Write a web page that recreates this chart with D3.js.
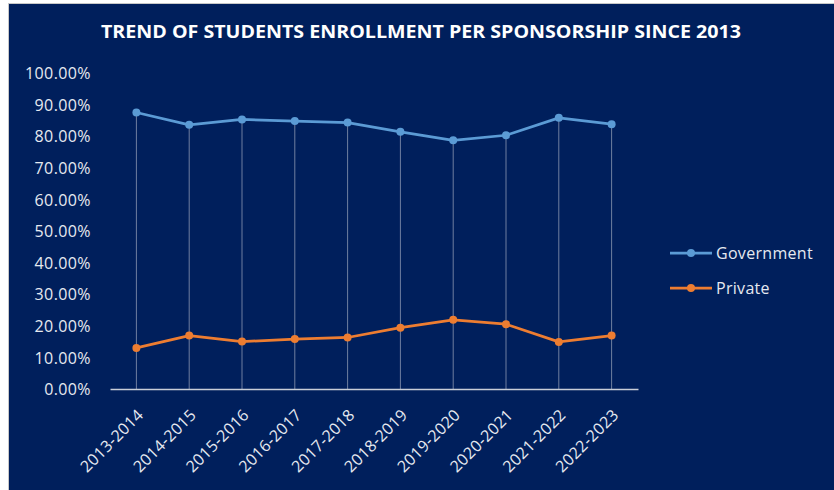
<!DOCTYPE html>
<html><head><meta charset="utf-8">
<script src="https://cdn.jsdelivr.net/npm/d3@7"></script>
<style>
html,body{margin:0;padding:0;background:#fff;}
svg{display:block;}
</style></head>
<body>
<svg id="chart" width="834" height="490"></svg>
<script>
const categories = ["2013-2014","2014-2015","2015-2016","2016-2017","2017-2018","2018-2019","2019-2020","2020-2021","2021-2022","2022-2023"];
const government = [87.5, 83.6, 85.3, 84.8, 84.3, 81.4, 78.7, 80.3, 85.8, 83.8];
const privateS   = [13.0, 16.9, 15.0, 15.8, 16.3, 19.4, 21.9, 20.5, 14.9, 16.9];
const yTicks = [0,10,20,30,40,50,60,70,80,90,100];
const seriesNames = ["Government","Private"];
const seriesColors = ["#5B9BD5","#ED7D31"];
const titleText = "TREND OF STUDENTS ENROLLMENT PER SPONSORSHIP SINCE 2013";

const svg = d3.select("#chart");
const font = "'Open Sans',sans-serif";
const textCol = "#E6E9F0";

// page frame
svg.append("rect").attr("x",0).attr("y",0).attr("width",834).attr("height",490).attr("fill","#ffffff");
svg.append("rect").attr("x",8).attr("y",3).attr("width",826).attr("height",487).attr("fill","#c8c8c8");
svg.append("rect").attr("x",9).attr("y",4).attr("width",825).attr("height",486).attr("fill","#001F5C");

// title
svg.append("text").attr("x",421).attr("y",38).attr("text-anchor","middle")
  .attr("font-family","'Open Sans',sans-serif").attr("font-weight","bold").attr("font-size",18)
  .attr("fill","#ffffff").attr("textLength",640).attr("lengthAdjust","spacingAndGlyphs")
  .text(titleText);

const x = d3.scaleBand().domain(categories).range([110,638]);
const y = d3.scaleLinear().domain([0,100]).range([389,73]);

// y axis labels
const yAxis = d3.axisLeft(y).tickValues(yTicks).tickSize(0).tickPadding(0)
  .tickFormat(d => d.toFixed(2) + "%");
const gy = svg.append("g").attr("transform","translate(91,0)").call(yAxis);
gy.select(".domain").remove();
gy.selectAll("text").attr("font-family",font).attr("font-size",16).attr("letter-spacing","0.4px")
  .attr("fill",textCol).attr("dy","0.35em");

// drop lines
const cx = d => x(d) + x.bandwidth()/2;
svg.append("g").selectAll("line").data(categories).join("line")
  .attr("x1",d=>cx(d)).attr("x2",d=>cx(d))
  .attr("y1",(d,i)=>y(Math.max(government[i],privateS[i])))
  .attr("y2",y(0))
  .attr("stroke","#6F7FA0").attr("stroke-width",1);

// x axis
const xAxis = d3.axisBottom(x).tickSize(0).tickPadding(0);
const gx = svg.append("g").attr("transform",`translate(0,${y(0)})`).call(xAxis);
gx.select(".domain").attr("stroke","#C9CED8").attr("stroke-width",1.5);
gx.selectAll("text").attr("font-family",font).attr("font-size",16).attr("letter-spacing","0.3px")
  .attr("fill",textCol).attr("text-anchor","end").attr("dy",0)
  .attr("transform","translate(8,27) rotate(-45)");

// series
const line = d3.line().x((d,i)=>cx(categories[i])).y(d=>y(d));
[government, privateS].forEach((vals, si) => {
  svg.append("path").datum(vals).attr("d",line).attr("fill","none")
    .attr("stroke",seriesColors[si]).attr("stroke-width",2.75).attr("stroke-linejoin","round");
  svg.append("g").selectAll("circle").data(vals).join("circle")
    .attr("cx",(d,i)=>cx(categories[i])).attr("cy",d=>y(d)).attr("r",4)
    .attr("fill",seriesColors[si]);
});

// legend
const lg = svg.append("g");
seriesNames.forEach((name, i) => {
  const ly = 253 + i*35;
  lg.append("line").attr("x1",670).attr("x2",712).attr("y1",ly).attr("y2",ly)
    .attr("stroke",seriesColors[i]).attr("stroke-width",2.75);
  lg.append("circle").attr("cx",691).attr("cy",ly).attr("r",4).attr("fill",seriesColors[i]);
  lg.append("text").attr("x",716).attr("y",ly).attr("dy","0.35em").attr("letter-spacing","0.3px")
    .attr("font-family",font).attr("font-size",16).attr("fill",textCol).text(name);
});
</script>
</body></html>
